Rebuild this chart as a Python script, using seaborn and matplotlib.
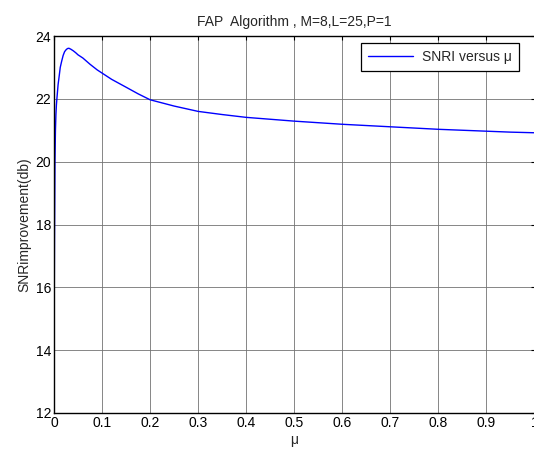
import matplotlib
matplotlib.use('Agg')
import matplotlib.pyplot as plt
import seaborn as sns

# values
mu = [0, 0.001, 0.002, 0.003, 0.004, 0.005, 0.006, 0.0085, 0.011, 0.013,
      0.016, 0.019, 0.022, 0.025, 0.028, 0.031, 0.035, 0.04, 0.045, 0.05,
      0.06, 0.075, 0.09, 0.1, 0.12, 0.15, 0.175, 0.2, 0.25, 0.3,
      0.35, 0.4, 0.45, 0.5, 0.55, 0.6, 0.65, 0.7, 0.75, 0.8,
      0.85, 0.9, 0.95, 1.0]
snri = [13.6, 17.5, 20.0, 21.0, 21.5, 21.8, 22.0, 22.45, 22.75, 23.0,
        23.2, 23.38, 23.5, 23.56, 23.6, 23.61, 23.58, 23.53, 23.47, 23.4,
        23.3, 23.1, 22.92, 22.82, 22.62, 22.37, 22.16, 21.97, 21.77, 21.6,
        21.5, 21.41, 21.35, 21.29, 21.24, 21.19, 21.15, 21.11, 21.07, 21.03,
        21.0, 20.97, 20.94, 20.92]
x_ticks = [0, 0.1, 0.2, 0.3, 0.4, 0.5, 0.6, 0.7, 0.8, 0.9, 1]
x_tick_labels = ['0', '0.1', '0.2', '0.3', '0.4', '0.5', '0.6', '0.7', '0.8', '0.9', '1']
y_ticks = [12, 14, 16, 18, 20, 22, 24]

sns.set_style('white')
plt.rcParams['font.family'] = ['Liberation Sans', 'DejaVu Sans']
plt.rcParams['font.size'] = 10

fig = plt.figure(figsize=(5.34, 4.55), dpi=100)
ax = fig.add_axes([54 / 534, 42 / 455, 480.5 / 534, 377 / 455])

sns.lineplot(x=mu, y=snri, ax=ax, color='#0000ff', linewidth=1.0,
             label='SNRI versus \u03bc')

ax.set_xlim(0, 1)
ax.set_ylim(12, 24)
ax.set_xticks(x_ticks)
ax.set_xticklabels(x_tick_labels)
ax.set_yticks(y_ticks)
ax.grid(True, color='0.45', linewidth=0.6, linestyle='-')
ax.tick_params(direction='in', length=3, width=0.8, colors='black',
               labelsize=10, top=True, right=True, pad=2)
for side in ['left', 'bottom', 'top', 'right']:
    ax.spines[side].set_color('black')
    ax.spines[side].set_linewidth(1.0)

ax.set_title('FAP  Algorithm , M=8,L=25,P=1', fontsize=10, pad=7)
ax.set_xlabel('\u03bc', fontsize=10, labelpad=2)
ax.set_ylabel('SNRimprovement(db)', fontsize=10, labelpad=3)

leg = ax.legend(loc='upper right', bbox_to_anchor=(0.967, 0.981),
                fontsize=10, frameon=True, fancybox=False,
                handlelength=3.3, handletextpad=0.6,
                borderpad=0.5, borderaxespad=0)
leg.get_frame().set_edgecolor('black')
leg.get_frame().set_linewidth(0.9)
leg.get_frame().set_alpha(1)

fig.savefig('out.png', dpi=100)
